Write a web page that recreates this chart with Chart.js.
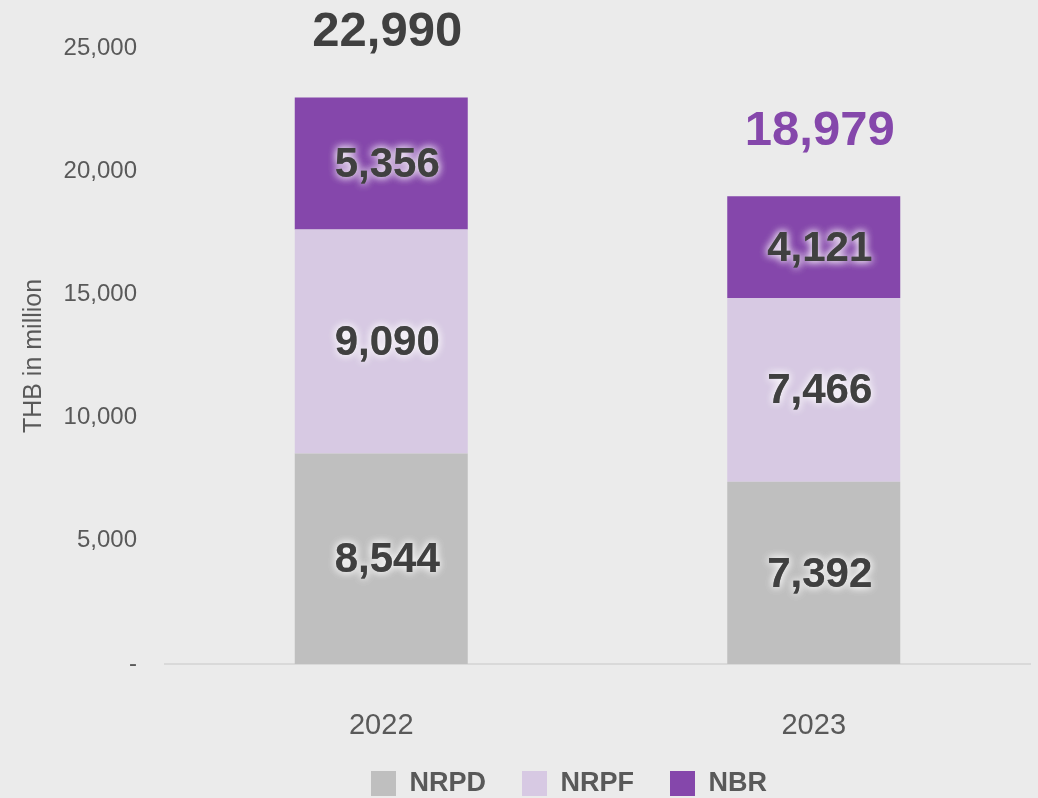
<!DOCTYPE html>
<html>
<head>
<meta charset="utf-8">
<script src="https://cdn.jsdelivr.net/npm/chart.js@4/dist/chart.umd.min.js"></script>
<style>
  html, body { margin: 0; padding: 0; background: #ebebeb; }
  #wrap { width: 1038px; height: 798px; }
</style>
</head>
<body>
<div id="wrap"><canvas id="myChart" width="1038" height="798"></canvas></div>
<script>
const years = ["2022", "2023"];
const nrpd = [8544, 7392];
const nrpf = [9090, 7466];
const nbr = [5356, 4121];

const FONT = "'Liberation Sans', Arial, sans-serif";
const totalColors = ["#404040", "#8547ab"];

// value labels inside each segment plus the stacked total above each bar
const barLabels = {
  id: "barLabels",
  afterLayout(chart) {
    // legend sits a bit right of the canvas centre
    chart.legend.left += 54;
    chart.legend.right += 54;
  },
  afterDatasetsDraw(chart) {
    const ctx = chart.ctx;
    ctx.save();
    ctx.textAlign = "center";
    ctx.textBaseline = "middle";
    ctx.font = "bold 42px " + FONT;
    ctx.fillStyle = "#404040";
    ctx.shadowColor = "rgba(255,255,255,0.85)";
    ctx.shadowBlur = 9;
    chart.data.datasets.forEach((ds, i) => {
      const meta = chart.getDatasetMeta(i);
      meta.data.forEach((bar, j) => {
        const y = (bar.y + bar.base) / 2 + 2;
        const txt = ds.data[j].toLocaleString("en-US");
        ctx.fillText(txt, bar.x + 6, y);
        ctx.fillText(txt, bar.x + 6, y);
      });
    });

    ctx.shadowBlur = 0;
    ctx.shadowColor = "transparent";
    ctx.font = "bold 49px " + FONT;
    const last = chart.getDatasetMeta(chart.data.datasets.length - 1);
    years.forEach((y, j) => {
      const total = chart.data.datasets.reduce((s, ds) => s + ds.data[j], 0);
      ctx.fillStyle = totalColors[j];
      ctx.fillText(total.toLocaleString("en-US"), last.data[j].x + 6, last.data[j].y - 65);
    });
    ctx.restore();
  }
};

const ctx = document.getElementById("myChart");
const myChart = new Chart(ctx, {
  type: "bar",
  data: {
    labels: years,
    datasets: [
      { label: "NRPD", data: nrpd, backgroundColor: "#bfbfbf" },
      { label: "NRPF", data: nrpf, backgroundColor: "#d7c9e3" },
      { label: "NBR", data: nbr, backgroundColor: "#8547ab" },
    ],
  },
  options: {
    responsive: false,
    animation: false,
    layout: { padding: { top: 48, right: 8, left: 0, bottom: -9 } },
    datasets: {
      bar: { categoryPercentage: 1, barPercentage: 0.4 },
    },
    plugins: {
      tooltip: { enabled: false },
      legend: {
        position: "bottom",
        labels: {
          color: "#595959",
          font: { family: FONT, size: 27, weight: "bold" },
          boxWidth: 25,
          boxHeight: 25,
          padding: 36,
        },
      },
    },
    scales: {
      x: {
        stacked: true,
        grid: { display: false, drawTicks: false },
        border: { display: true, color: "#d9d9d9", width: 2 },
        ticks: { color: "#595959", font: { family: FONT, size: 29 }, padding: 45 },
        afterFit(scale) { scale.height = 70; },
      },
      y: {
        stacked: true,
        min: 0,
        max: 25000,
        grid: { display: false, drawTicks: false },
        border: { display: false },
        ticks: {
          stepSize: 5000,
          padding: 28,
          color: "#595959",
          font: { family: FONT, size: 24 },
          callback: (v) => (v === 0 ? "-" : v.toLocaleString("en-US")),
        },
        title: {
          display: true,
          text: "THB in million",
          color: "#595959",
          font: { family: FONT, size: 25 },
          padding: { top: 19, bottom: 0 },
        },
        afterFit(scale) { scale.width = 165; },
      },
    },
  },
  plugins: [barLabels],
});
</script>
</body>
</html>
